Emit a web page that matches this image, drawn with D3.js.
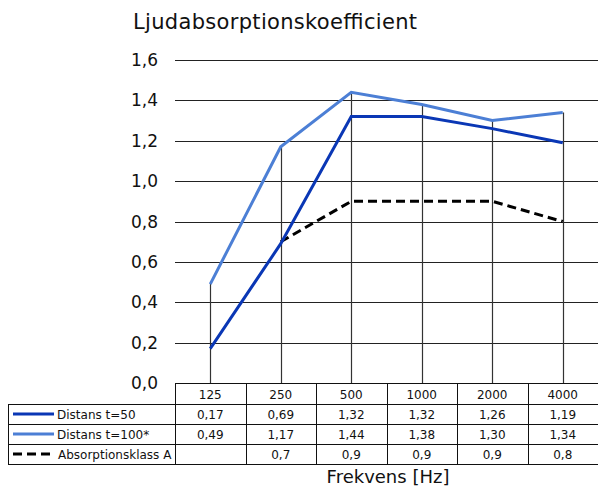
<!DOCTYPE html>
<html>
<head>
<meta charset="utf-8">
<script src="https://cdn.jsdelivr.net/npm/d3@7"></script>
<style>
  body { margin: 0; background: #fff; }
  svg { display: block; font-family: "DejaVu Sans", Verdana, sans-serif; }
</style>
</head>
<body>
<svg id="chart" width="598" height="486"></svg>
<script>
// data
var categories = ["125", "250", "500", "1000", "2000", "4000"];
var distans50 = [0.17, 0.69, 1.32, 1.32, 1.26, 1.19];
var distans100 = [0.49, 1.17, 1.44, 1.38, 1.30, 1.34];
var klassA = [null, 0.7, 0.9, 0.9, 0.9, 0.8];
var yTicks = [0, 0.2, 0.4, 0.6, 0.8, 1.0, 1.2, 1.4, 1.6];

var series = [
    { name: "Distans t=50", values: distans50, color: "#0a37b5", dash: null, label: function(v) { return fmt2(v); } },
    { name: "Distans t=100*", values: distans100, color: "#4c7fd5", dash: null, label: function(v) { return fmt2(v); } },
    { name: "Absorptionsklass A", values: klassA, color: "#000", dash: "9,5", label: function(v) { return fmt1(v); } }
];

function fmt2(v) { return v == null ? "" : d3.format(".2f")(v).replace(".", ","); }
function fmt1(v) { return v == null ? "" : d3.format(".1f")(v).replace(".", ","); }

var svg = d3.select("#chart");
var plotLeft = 175, plotRight = 598, plotTop = 60, plotBottom = 383;
var rowH = 20, headH = 21, tableLeft = 8;

var x = d3.scaleBand().domain(categories).range([plotLeft, plotRight]);
var y = d3.scaleLinear().domain([0, 1.6]).range([plotBottom, plotTop]);

/* title */
svg.append("text")
    .attr("x", 133).attr("y", 29)
    .attr("font-size", 21)
    .attr("textLength", 284)
    .attr("fill", "#111")
    .text("Ljudabsorptionskoefficient");

/* horizontal gridlines + y labels */
svg.append("g").selectAll("line")
    .data(yTicks.filter(function(d) { return d > 0; }))
    .join("line")
    .attr("x1", plotLeft).attr("x2", plotRight)
    .attr("y1", function(d) { return Math.round(y(d)) + 0.5; })
    .attr("y2", function(d) { return Math.round(y(d)) + 0.5; })
    .attr("stroke", "#222").attr("stroke-width", 1.2);

svg.append("g").selectAll("text")
    .data(yTicks)
    .join("text")
    .attr("x", 158)
    .attr("y", function(d) { return y(d) + 6; })
    .attr("text-anchor", "end")
    .attr("font-size", 17)
    .attr("fill", "#111")
    .text(function(d) { return d3.format(".1f")(d).replace(".", ","); });

/* drop lines from the highest point down to zero */
svg.append("g").selectAll("line")
    .data(categories)
    .join("line")
    .attr("x1", function(d) { return Math.round(x(d) + x.bandwidth() / 2) + 0.5; })
    .attr("x2", function(d) { return Math.round(x(d) + x.bandwidth() / 2) + 0.5; })
    .attr("y1", function(d, i) { return y(d3.max(series, function(s) { return s.values[i]; })); })
    .attr("y2", plotBottom)
    .attr("stroke", "#333").attr("stroke-width", 1.2);

/* series lines */
var line = d3.line()
    .defined(function(d) { return d.v != null; })
    .x(function(d) { return x(d.c) + x.bandwidth() / 2; })
    .y(function(d) { return y(d.v); });

series.slice().reverse().forEach(function(s) {
    svg.append("path")
        .datum(categories.map(function(c, i) { return { c: c, v: s.values[i] }; }))
        .attr("d", line)
        .attr("fill", "none")
        .attr("stroke", s.color)
        .attr("stroke-width", 3)
        .attr("stroke-dasharray", s.dash);
});

/* data table */
var table = svg.append("g").attr("stroke", "#111").attr("stroke-width", 1);
var tableBottom = plotBottom + headH + rowH * series.length;

// header row (category labels)
table.append("line")
    .attr("x1", plotLeft).attr("x2", plotRight)
    .attr("y1", plotBottom + 0.5).attr("y2", plotBottom + 0.5);
svg.append("g").selectAll("text")
    .data(categories)
    .join("text")
    .attr("x", function(d) { return x(d) + x.bandwidth() / 2; })
    .attr("y", plotBottom + 16)
    .attr("text-anchor", "middle")
    .attr("font-size", 12)
    .attr("fill", "#111")
    .text(function(d) { return d; });

// row separators
series.forEach(function(s, r) {
    var yy = plotBottom + headH + r * rowH;
    table.append("line")
        .attr("x1", tableLeft).attr("x2", plotRight)
        .attr("y1", yy + 0.5).attr("y2", yy + 0.5);
});
table.append("line")
    .attr("x1", tableLeft).attr("x2", plotRight)
    .attr("y1", tableBottom + 0.5).attr("y2", tableBottom + 0.5);

// column borders
table.selectAll("line.col")
    .data(categories)
    .join("line")
    .attr("class", "col")
    .attr("x1", function(d) { return Math.round(x(d)) + 0.5; })
    .attr("x2", function(d) { return Math.round(x(d)) + 0.5; })
    .attr("y1", plotBottom).attr("y2", tableBottom);
table.append("line")
    .attr("x1", tableLeft + 0.5).attr("x2", tableLeft + 0.5)
    .attr("y1", plotBottom + headH).attr("y2", tableBottom);

// legend keys + values
series.forEach(function(s, r) {
    var cy = plotBottom + headH + r * rowH + rowH / 2;
    svg.append("line")
        .attr("x1", 13).attr("x2", 54)
        .attr("y1", cy).attr("y2", cy)
        .attr("stroke", s.color)
        .attr("stroke-width", 3)
        .attr("stroke-dasharray", s.dash);
    svg.append("text")
        .attr("x", s.dash ? 58 : 57).attr("y", cy + 4.5)
        .attr("font-size", 12)
        .attr("fill", "#111")
        .text(s.name);
    svg.append("g").selectAll("text")
        .data(s.values)
        .join("text")
        .attr("x", function(d, i) { return x(categories[i]) + x.bandwidth() / 2; })
        .attr("y", cy + 4.5)
        .attr("text-anchor", "middle")
        .attr("font-size", 12)
        .attr("fill", "#111")
        .text(s.label);
});

/* x axis title */
svg.append("text")
    .attr("x", 388).attr("y", 483)
    .attr("text-anchor", "middle")
    .attr("font-size", 18)
    .attr("fill", "#111")
    .text("Frekvens [Hz]");
</script>
</body>
</html>
